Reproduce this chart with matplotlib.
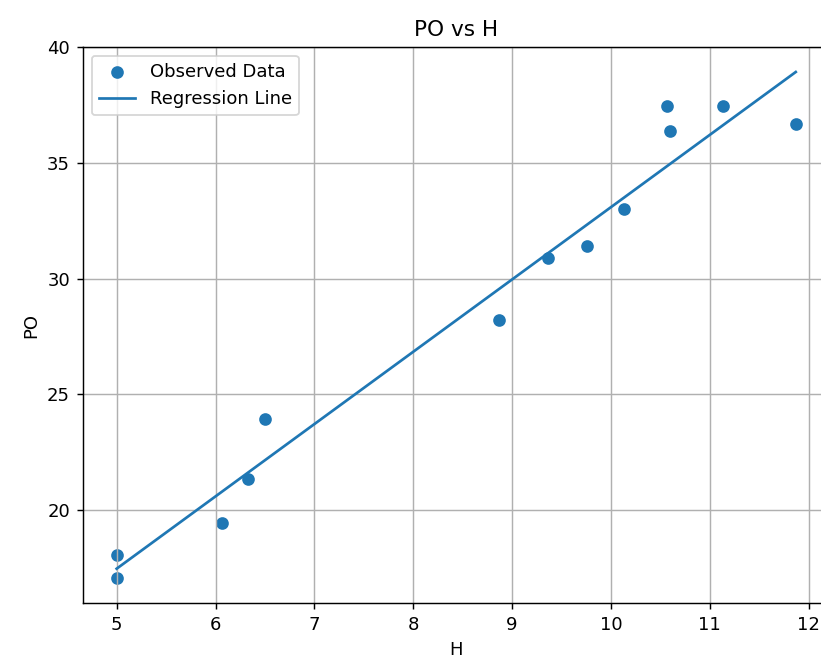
import numpy as np
import matplotlib.pyplot as plt

# observed data
H = [5.0, 5.0, 6.07, 6.33, 6.5, 8.87, 9.36, 9.76, 10.13, 10.57, 10.6, 11.13, 11.87]
PO = [18.07, 17.08, 19.47, 21.36, 23.95, 28.21, 30.89, 31.39, 33.0, 37.46, 36.35, 37.46, 36.67]

H = np.array(H)
PO = np.array(PO)

# least squares fit
m, b = np.polyfit(H, PO, 1)
PO_fit = m * H + b

fig = plt.figure(figsize=(821/130, 665/130), dpi=130)
# the right side of the axes runs a little past the edge of the image
ax = fig.add_axes([82.7/821, 61.7/665, 747/821, 556.6/665])
ax.scatter(H, PO, label='Observed Data')
ax.plot(H, PO_fit, label='Regression Line')
ax.set_xlabel('H')
ax.set_ylabel('PO')
ax.set_title('PO vs H')
ax.legend()
ax.grid(True)

fig.savefig('out.png', dpi=130)
